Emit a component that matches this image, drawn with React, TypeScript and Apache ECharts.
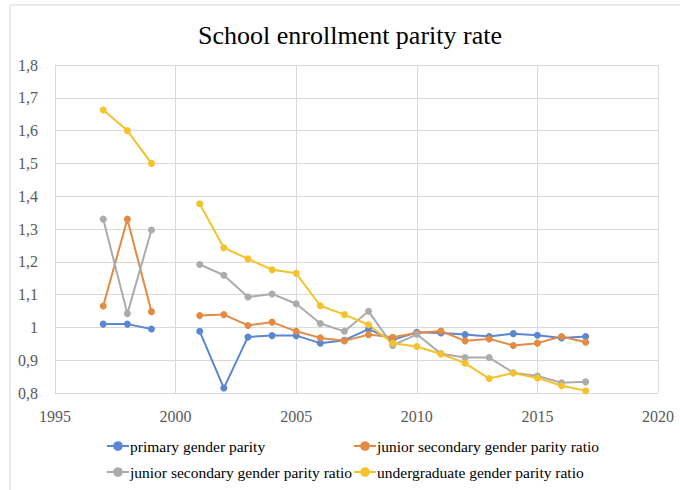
import React, { useEffect, useRef } from "react";
import * as echarts from "echarts";

const years = [1997, 1998, 1999, 2000, 2001, 2002, 2003, 2004, 2005, 2006, 2007, 2008, 2009, 2010, 2011, 2012, 2013, 2014, 2015, 2016, 2017];
const primary = [1.01, 1.01, 0.995, null, 0.988, 0.815, 0.971, 0.975, 0.975, 0.952, 0.961, 0.995, 0.962, 0.985, 0.983, 0.978, 0.972, 0.981, 0.976, 0.968, 0.972];
const juniorA = [1.065, 1.33, 1.048, null, 1.036, 1.039, 1.006, 1.016, 0.988, 0.968, 0.959, 0.978, 0.97, 0.983, 0.989, 0.959, 0.965, 0.945, 0.952, 0.972, 0.955];
const juniorB = [1.33, 1.042, 1.297, null, 1.192, 1.159, 1.093, 1.102, 1.072, 1.012, 0.988, 1.049, 0.945, 0.979, 0.92, 0.908, 0.908, 0.862, 0.852, 0.831, 0.834];
const undergrad = [1.663, 1.6, 1.5, null, 1.377, 1.243, 1.209, 1.176, 1.165, 1.066, 1.039, 1.008, 0.952, 0.942, 0.919, 0.891, 0.844, 0.861, 0.846, 0.822, 0.807];

const seriesNames = [
  "primary gender parity",
  "junior secondary gender parity ratio",
  "junior secondary gender parity ratio (2)",
  "undergraduate gender parity ratio",
];
const seriesValues = [primary, juniorA, juniorB, undergrad];
const colors = ["#5B86D1", "#E38A43", "#ABABAB", "#F4C22B"];
const titleText = "School enrollment parity rate";

const FONT = "Liberation Serif";

export default function App() {
  const ref = useRef<HTMLDivElement>(null);
  useEffect(() => {
    document.body.style.margin = "0";
    if (!ref.current) return;
    const chart = echarts.init(ref.current, null, { renderer: "svg" });
    const legendText = (name: string) => name.replace(" (2)", "");
    const legendStyle = { fontFamily: FONT, fontSize: 15.5, color: "#000000", padding: [0, 0, 0, -4] };
    chart.setOption({
      animation: false,
      backgroundColor: "#ffffff",
      textStyle: { fontFamily: FONT },
      graphic: [
        {
          type: "rect",
          shape: { x: 10, y: 5, width: 720, height: 520 },
          style: { fill: "none", stroke: "#e4e4e4", lineWidth: 1.5 },
          silent: true,
          z: -1,
        },
        {
          type: "text",
          x: 350,
          y: 35,
          style: {
            text: titleText,
            fontFamily: FONT,
            fontSize: 26,
            fill: "#000000",
            textAlign: "center",
            textVerticalAlign: "middle",
          },
        },
      ],
      grid: { left: 55, right: 22, top: 65, bottom: 97, containLabel: false },
      xAxis: {
        type: "value",
        min: 1995,
        max: 2020,
        interval: 5,
        axisLine: { show: true, lineStyle: { color: "#d9d9d9", width: 1 } },
        axisTick: { show: false },
        splitLine: { show: true, lineStyle: { color: "#d9d9d9", width: 1 } },
        axisLabel: { color: "#595959", fontFamily: FONT, fontSize: 16, margin: 15, formatter: (v: number) => String(v) },
      },
      yAxis: {
        type: "value",
        min: 0.8,
        max: 1.8,
        interval: 0.1,
        axisLine: { show: true, lineStyle: { color: "#d9d9d9", width: 1 } },
        axisTick: { show: false },
        splitLine: { show: true, lineStyle: { color: "#d9d9d9", width: 1 } },
        axisLabel: {
          color: "#595959",
          fontFamily: FONT,
          fontSize: 16,
          margin: 17,
          padding: [10, 0, 0, 0],
          formatter: (v: number) => String(Number(v.toFixed(1))).replace(".", ","),
        },
      },
      legend: [
        {
          orient: "vertical",
          left: 106,
          top: 438,
          padding: 0,
          itemWidth: 22,
          itemHeight: 12,
          itemGap: 10,
          data: [seriesNames[0], seriesNames[2]],
          formatter: legendText,
          textStyle: legendStyle,
        },
        {
          orient: "vertical",
          left: 353,
          top: 438,
          padding: 0,
          itemWidth: 22,
          itemHeight: 12,
          itemGap: 10,
          data: [seriesNames[1], seriesNames[3]],
          formatter: legendText,
          textStyle: legendStyle,
        },
      ],
      series: seriesNames.map((name, k) => ({
        name,
        type: "line",
        data: years.map((y, i) => [y, seriesValues[k][i] == null ? "-" : seriesValues[k][i]]),
        connectNulls: false,
        symbol: "circle",
        symbolSize: 7,
        itemStyle: { color: colors[k] },
        lineStyle: { color: colors[k], width: 2 },
      })),
    });
    return () => chart.dispose();
  }, []);
  return <div ref={ref} style={{ width: 680, height: 490 }} />;
}
